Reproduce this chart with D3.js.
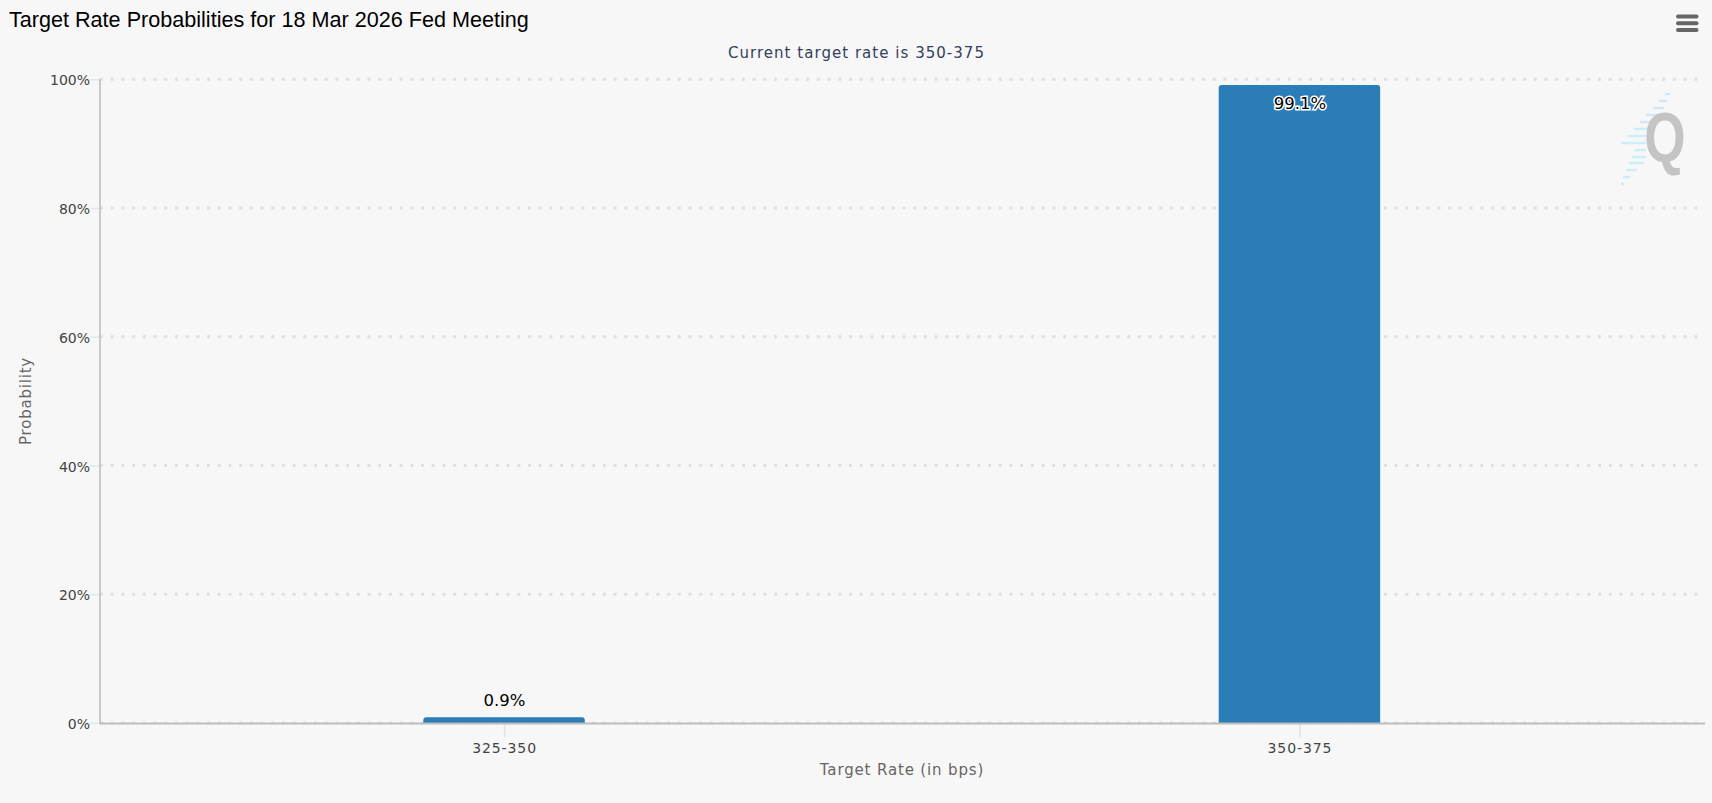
<!DOCTYPE html>
<html>
<head>
<meta charset="utf-8">
<script src="https://cdn.jsdelivr.net/npm/d3@7"></script>
<style>
  html, body { margin: 0; padding: 0; background: #f7f7f7; overflow: hidden; }
  text { font-family: "DejaVu Sans", sans-serif; }
</style>
</head>
<body>
<svg id="chart" width="1712" height="803"></svg>
<script>
var categories = ["325-350", "350-375"];
var probabilities = [0.9, 99.1];
var valueLabels = ["0.9%", "99.1%"];
var yTicks = [0, 20, 40, 60, 80, 100];
var titleText = "Target Rate Probabilities for 18 Mar 2026 Fed Meeting";
var subtitleText = "Current target rate is 350-375";
var xAxisTitle = "Target Rate (in bps)";
var yAxisTitle = "Probability";

// watermark stripes, [left, right, y]
var logoStripes = [
  [1665, 1670, 94], [1659, 1667, 101], [1653, 1664, 108], [1646, 1660, 115],
  [1640, 1653, 122], [1634, 1648, 129], [1628, 1646, 136], [1621, 1646, 143],
  [1635, 1646, 150], [1632, 1646, 157], [1629, 1644, 163], [1626, 1637, 170],
  [1623, 1630, 177], [1621, 1624, 184]
];

var svg = d3.select("#chart");
var left = 100, right = 1705, top_ = 79.3, bottom = 723;

var x = d3.scalePoint().domain(categories).range([left, right - 1.5]).padding(0.508);
var y = d3.scaleLinear().domain([0, 100]).range([bottom, top_]);
var barWidth = x.step() * 0.203;

// logo goes under everything else
var logo = svg.append("g");
logo.selectAll("line").data(logoStripes).join("line")
  .attr("x1", function(d) { return d[0]; })
  .attr("x2", function(d) { return d[1]; })
  .attr("y1", function(d) { return d[2]; })
  .attr("y2", function(d) { return d[2]; })
  .attr("stroke", function(d) { return d[2] < 125 ? "#d3e6f6" : "#c9eff7"; })
  .attr("stroke-width", 2.4);
logo.append("text")
  .attr("transform", "translate(1665,162) scale(0.76,1)")
  .attr("text-anchor", "middle")
  .style("font-family", "'Liberation Sans'")
  .style("font-weight", "bold")
  .style("font-size", "70px")
  .attr("fill", "#c4c4c4")
  .text("Q");

// grid
svg.append("g").selectAll("line").data(yTicks).join("line")
  .attr("x1", left).attr("x2", right - 1)
  .attr("y1", function(d) { return y(d); })
  .attr("y2", function(d) { return y(d); })
  .attr("stroke", "#e0e0e0")
  .attr("stroke-width", 3)
  .attr("stroke-dasharray", "3 7.7");

// bars, only the top corners are rounded
function barPath(d, i) {
  var x0 = x(categories[i]) - barWidth / 2, x1 = x0 + barWidth;
  var yt = y(d), r = 3;
  return "M" + x0 + "," + bottom + "V" + (yt + r) + "Q" + x0 + "," + yt + " " + (x0 + r) + "," + yt +
    "H" + (x1 - r) + "Q" + x1 + "," + yt + " " + x1 + "," + (yt + r) + "V" + bottom + "Z";
}
svg.append("g").selectAll("path").data(probabilities).join("path")
  .attr("d", barPath)
  .attr("fill", "#2a7db6");

// axes
var yAxis = d3.axisLeft(y).tickValues(yTicks).tickFormat(function(d) { return d + "%"; })
  .tickSize(10).tickPadding(0);
var gy = svg.append("g").attr("transform", "translate(" + left + ",0)").call(yAxis);
gy.select(".domain").remove();
gy.selectAll(".tick line").attr("stroke", "#e2e6ea").attr("stroke-width", 1.5);
gy.selectAll(".tick text").style("font-size", "14px").attr("fill", "#444").attr("dy", "0.4em");

var xAxis = d3.axisBottom(x).tickSize(14).tickPadding(6);
var gx = svg.append("g").attr("transform", "translate(0," + bottom + ")").call(xAxis);
gx.select(".domain").remove();
gx.selectAll(".tick line").attr("stroke", "#e2e2e2").attr("stroke-width", 1.5);
gx.selectAll(".tick text").style("font-size", "14px").style("letter-spacing", "0.9px").attr("fill", "#444");

svg.append("line").attr("x1", left).attr("x2", left).attr("y1", top_).attr("y2", bottom + 1)
  .attr("stroke", "#bdbdbd").attr("stroke-width", 1.6);
svg.append("line").attr("x1", left).attr("x2", right).attr("y1", bottom + 0.5).attr("y2", bottom + 0.5)
  .attr("stroke", "#bdbdbd").attr("stroke-width", 2);

// value labels: small bar gets it above, tall bar inside
svg.append("g").selectAll("text").data(probabilities).join("text")
  .attr("x", function(d, i) { return x(categories[i]) + 0.5; })
  .attr("y", function(d) { return d > 50 ? y(d) + 24 : y(d) - 11; })
  .attr("text-anchor", "middle")
  .style("font-size", "16.5px")
  .attr("fill", "#000")
  .attr("stroke", function(d) { return d > 50 ? "#fff" : "none"; })
  .attr("stroke-width", 3)
  .attr("paint-order", "stroke")
  .text(function(d, i) { return valueLabels[i]; });

// titles
svg.append("text").attr("x", 9).attr("y", 27)
  .style("font-family", "'Liberation Sans'").style("font-size", "21.6px").attr("fill", "#000")
  .text(titleText);
svg.append("text").attr("x", 856.5).attr("y", 58).attr("text-anchor", "middle")
  .style("font-size", "15px").style("letter-spacing", "1.03px").attr("fill", "#33415c")
  .text(subtitleText);
svg.append("text").attr("x", 902).attr("y", 775).attr("text-anchor", "middle")
  .style("font-size", "15px").style("letter-spacing", "0.85px").attr("fill", "#666")
  .text(xAxisTitle);
svg.append("text").attr("transform", "translate(31,401) rotate(-90)").attr("text-anchor", "middle")
  .style("font-size", "15px").style("letter-spacing", "0.8px").attr("fill", "#666")
  .text(yAxisTitle);

// menu icon
var menuBars = [0, 1, 2];
svg.append("g").selectAll("rect").data(menuBars).join("rect")
  .attr("x", 1676).attr("y", function(d) { return 14.5 + d * 6.8; })
  .attr("width", 22.5).attr("height", 4).attr("rx", 2)
  .attr("fill", "#666");
</script>
</body>
</html>
